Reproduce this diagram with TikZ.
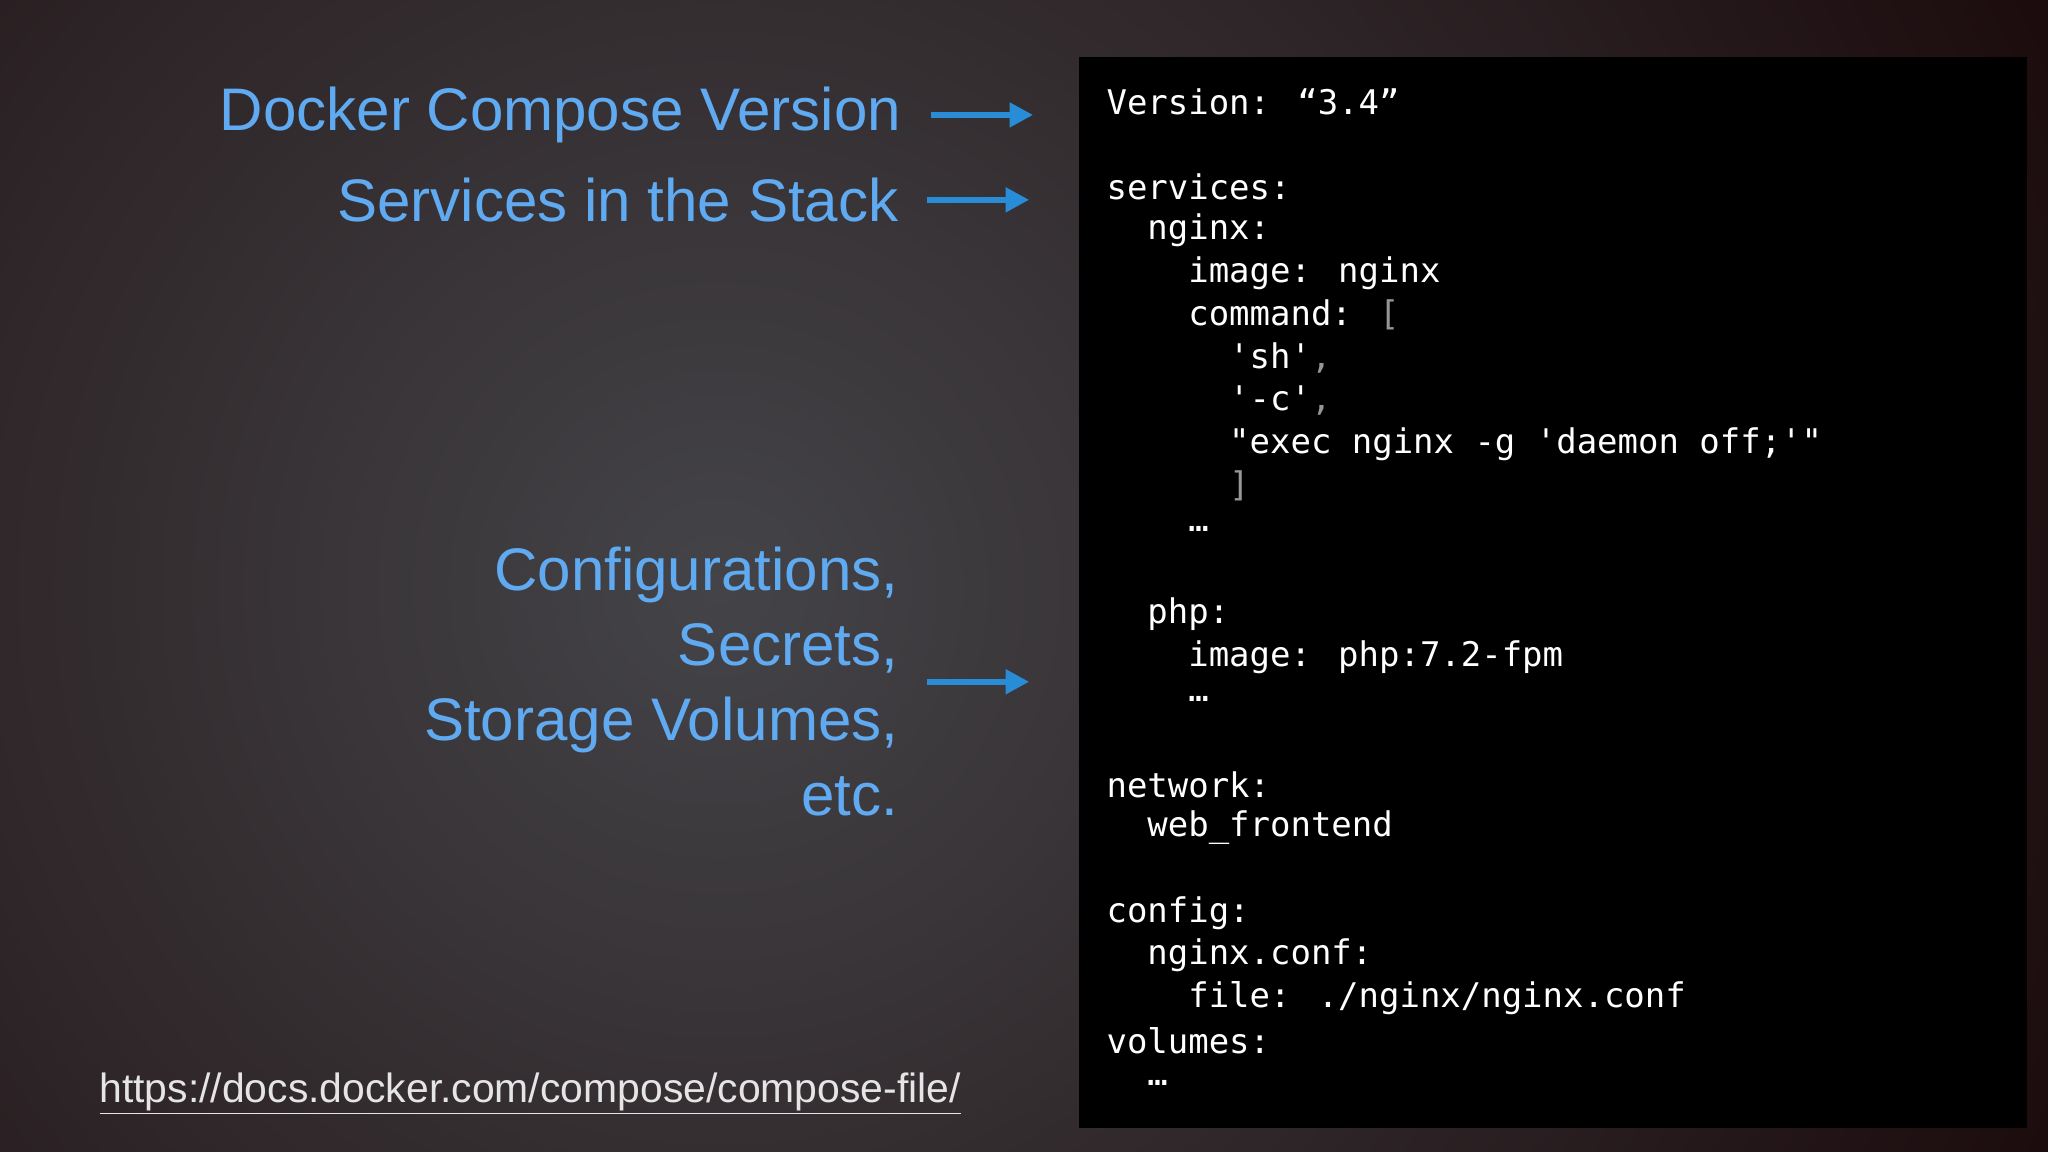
\documentclass[tikz,border=0pt]{standalone}
\usepackage{fontspec}
\setmainfont{Liberation Sans}
\newfontfamily\codefont{DejaVu Sans Mono}
\usetikzlibrary{arrows.meta}
\definecolor{lblue}{RGB}{95,170,240}
\definecolor{ablue}{RGB}{40,140,215}
\definecolor{edge}{RGB}{28,12,14}
\definecolor{mid}{RGB}{68,68,72}
\definecolor{pun}{RGB}{150,150,150}
\tikzset{
 lbl/.style={anchor=east,text=lblue,font=\fontsize{46}{54}\selectfont,inner sep=0pt,align=right},
 code/.style={anchor=west,text=white,font=\codefont\fontsize{26}{32}\selectfont,inner sep=0pt},
 arr/.style={draw=ablue,line width=5pt,-{Triangle[length=18pt,width=18pt]}}
}
\begin{document}
\begin{tikzpicture}[x=1pt,y=-1pt]
\useasboundingbox (0,0) rectangle (1568,882);
\clip (0,0) rectangle (1568,882);
\fill[edge] (0,0) rectangle (1568,882);
\shade[inner color=mid,outer color=edge] (-550,-650) rectangle (1650,1550);
\fill[black] (826,44) rectangle (1552,864);
\node[lbl] (l1) at (690,88) {Docker Compose Version};
\node[lbl] (l2) at (688,153) {Services in the Stack};
\node[lbl,font=\fontsize{46}{57.5}\selectfont] (l3) at (688,522) {Configurations,\\Secrets,\\Storage Volumes,\\etc.};
\coordinate (a1s) at (713,88); \coordinate (a1e) at (791,88);
\coordinate (a2s) at (710,153); \coordinate (a2e) at (788,153);
\coordinate (a3s) at (710,522); \coordinate (a3e) at (788,522);
\draw[arr] (a1s) -- (a1e);
\draw[arr] (a2s) -- (a2e);
\draw[arr] (a3s) -- (a3e);
\node[anchor=west,text=white!90!black,font=\fontsize{31.3}{36}\selectfont,inner sep=0pt] (url) at (76,837) {\underline{https://docs.docker.com/compose/compose-file/}};
\node[code] (c1) at (847,78) {Version: “3.4”};
\node[code] (c2) at (847,143) {services:};
\node[code] (c3) at (847,176) {\ \ nginx:};
\node[code] (c4) at (847,209) {\ \ \ \ image: nginx};
\node[code] (c5) at (847,241) {\ \ \ \ command: \textcolor{pun}{[}};
\node[code] (c6) at (847,274) {\ \ \ \ \ \ 'sh'\textcolor{pun}{,}};
\node[code] (c7) at (847,307) {\ \ \ \ \ \ '-c'\textcolor{pun}{,}};
\node[code] (c8) at (847,340) {\ \ \ \ \ \ "exec nginx -g 'daemon off;'"};
\node[code] (c9) at (847,372) {\ \ \ \ \ \ \textcolor{pun}{]}};
\node[code] (c10) at (847,405) {\ \ \ \ …};
\node[code] (c11) at (847,470) {\ \ php:};
\node[code] (c12) at (847,503) {\ \ \ \ image: php:7.2-fpm};
\node[code] (c13) at (847,535) {\ \ \ \ …};
\node[code] (c14) at (847,601) {network:};
\node[code] (c15) at (847,634) {\ \ web\_frontend};
\node[code] (c16) at (847,699) {config:};
\node[code] (c17) at (847,731) {\ \ nginx.conf:};
\node[code] (c18) at (847,764) {\ \ \ \ file: ./nginx/nginx.conf};
\node[code] (c19) at (847,797) {volumes:};
\node[code] (c20) at (847,829) {\ \ …};
\end{tikzpicture}
\end{document}
